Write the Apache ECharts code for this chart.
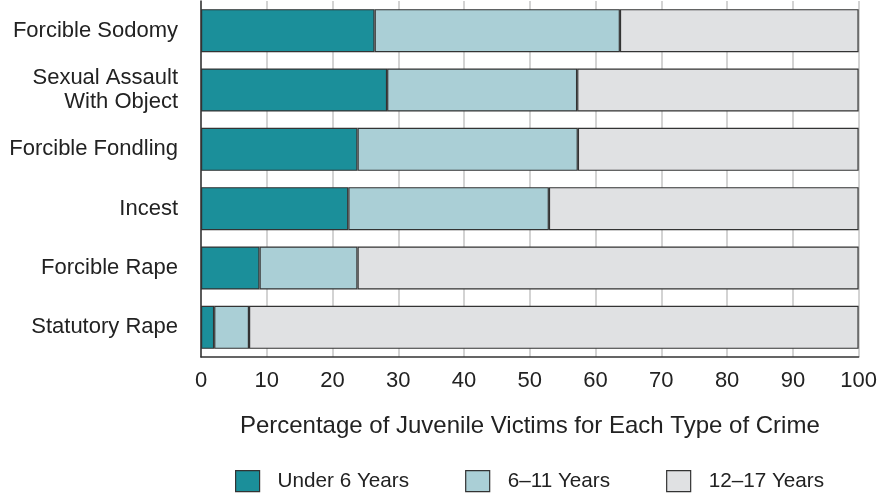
<!DOCTYPE html>
<html>
<head>
<meta charset="utf-8">
<script src="https://cdn.jsdelivr.net/npm/echarts@6/dist/echarts.min.js"></script>
<style>html,body{margin:0;padding:0;background:#fff}#c{width:880px;height:496px}</style>
</head>
<body>
<div id="c"></div>
<script>
const categories = ['Forcible Sodomy', 'Sexual Assault\nWith Object', 'Forcible Fondling', 'Incest', 'Forcible Rape', 'Statutory Rape'];
const seriesNames = ['Under 6 Years', '6\u201311 Years', '12\u201317 Years'];
const under6 = [26.4, 28.3, 23.8, 22.4, 8.9, 2.0];
const age6to11 = [37.3, 28.9, 33.5, 30.5, 14.9, 5.3];
const age12to17 = [36.3, 42.8, 42.7, 47.1, 76.2, 92.7];
const xTicks = [0, 10, 20, 30, 40, 50, 60, 70, 80, 90, 100];
const axisTitle = 'Percentage of Juvenile Victims for Each Type of Crime';

const colors = ['#1b8f9a', '#aacfd6', '#e0e1e3'];
const font = 'Liberation Sans, Arial, sans-serif';
const dataSets = [under6, age6to11, age12to17];

const chart = echarts.init(document.getElementById('c'), null, {renderer: 'canvas'});
chart.setOption({
  animation: false,
  backgroundColor: '#fff',
  textStyle: {fontFamily: font, color: '#222'},
  grid: {left: 201, right: 20, top: 1, bottom: 139, containLabel: false},
  legend: {
    top: 465,
    left: 230,
    padding: 5,
    itemWidth: 24,
    itemHeight: 21,
    itemGap: 56,
    icon: 'rect',
    itemStyle: {borderColor: '#333', borderWidth: 1.2},
    textStyle: {fontFamily: font, fontSize: 20.7, color: '#222', padding: [0, 0, 0, 13]},
    data: seriesNames
  },
  xAxis: {
    type: 'value',
    min: xTicks[0],
    max: xTicks[xTicks.length - 1],
    interval: 10,
    name: axisTitle,
    nameLocation: 'middle',
    nameGap: 57,
    nameTextStyle: {fontFamily: font, fontSize: 24, color: '#222'},
    axisLine: {show: true, lineStyle: {color: '#333', width: 1.5}},
    axisTick: {show: false},
    axisLabel: {fontFamily: font, fontSize: 22, color: '#222', margin: 13},
    splitLine: {show: true, lineStyle: {color: '#c4c4c4', width: 1.5}}
  },
  yAxis: {
    type: 'category',
    inverse: true,
    data: categories,
    axisLine: {show: true, lineStyle: {color: '#333', width: 1.5}},
    axisTick: {show: false},
    axisLabel: {fontFamily: font, fontSize: 22, color: '#222', margin: 23, lineHeight: 24, align: 'right'}
  },
  series: seriesNames.map((n, i) => ({
    name: n,
    type: 'bar',
    stack: 'total',
    barWidth: 43,
    data: dataSets[i],
    itemStyle: {color: colors[i], borderColor: '#333', borderWidth: 1.2}
  }))
});
</script>
</body>
</html>
